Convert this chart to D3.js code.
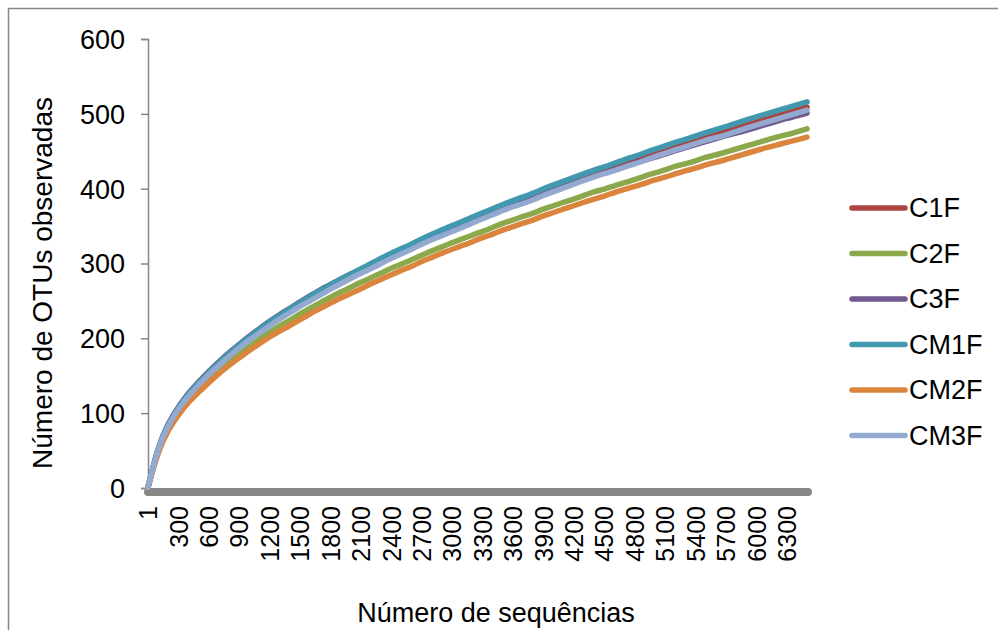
<!DOCTYPE html>
<html>
<head>
<meta charset="utf-8">
<script src="https://cdn.jsdelivr.net/npm/d3@7"></script>
<style>
  body { margin: 0; background: #fff; }
  svg text { font-family: "Liberation Sans", Arial, sans-serif; fill: #000; }
</style>
</head>
<body>
<div id="chart"></div>
<script>
// categories: number of sequences, 1 then every 100
const sequences = [1].concat(d3.range(100, 6501, 100));
const tickLabels = ['1', '300', '600', '900', '1200', '1500', '1800', '2100', '2400', '2700', '3000',
	'3300', '3600', '3900', '4200', '4500', '4800', '5100', '5400', '5700', '6000', '6300'];
const yTicks = [0, 100, 200, 300, 400, 500, 600];

const seriesNames = ['C1F', 'C2F', 'C3F', 'CM1F', 'CM2F', 'CM3F'];
const seriesColors = ['#AD4340', '#8BA94B', '#71588F', '#4198AF', '#DB843D', '#93A9CF'];

const C1F = [1, 54, 85, 106, 124, 139, 153, 166, 177, 188, 199, 209, 219, 228, 236, 245, 252, 260, 268, 275,
	282, 289, 296, 303, 310, 316, 321, 328, 334, 340, 346, 351, 357, 363, 368, 374, 379, 384, 388, 394,
	399, 404, 409, 414, 419, 423, 428, 433, 437, 442, 447, 451, 456, 459, 463, 468, 472, 476, 480, 485,
	489, 493, 497, 501, 505, 509];
const C2F = [1, 51, 81, 101, 118, 132, 145, 157, 168, 179, 189, 199, 208, 217, 224, 233, 240, 248, 255, 262,
	268, 275, 281, 287, 294, 299, 305, 311, 317, 322, 328, 333, 338, 343, 348, 354, 358, 363, 367, 373,
	377, 382, 386, 391, 396, 399, 404, 408, 412, 417, 421, 425, 430, 433, 437, 442, 445, 449, 453, 457,
	461, 465, 469, 472, 476, 480];
const C3F = [1, 56, 87, 109, 127, 142, 156, 169, 181, 192, 203, 213, 223, 232, 240, 249, 257, 265, 272, 279,
	286, 292, 299, 305, 312, 318, 324, 330, 336, 342, 347, 352, 358, 363, 368, 373, 378, 383, 388, 393,
	398, 403, 408, 412, 417, 421, 425, 430, 434, 438, 442, 446, 451, 455, 459, 463, 467, 471, 474, 478,
	482, 486, 490, 494, 497, 501];
const CM1F = [1, 55, 86, 108, 126, 141, 155, 168, 180, 191, 202, 212, 222, 231, 239, 248, 256, 264, 272, 279,
	286, 293, 300, 307, 314, 320, 326, 333, 339, 345, 351, 356, 362, 368, 373, 379, 384, 389, 394, 400,
	405, 410, 415, 420, 425, 429, 434, 439, 443, 448, 453, 457, 462, 466, 470, 475, 479, 483, 487, 492,
	496, 500, 504, 508, 512, 516];
const CM2F = [1, 49, 78, 98, 115, 128, 141, 153, 164, 174, 184, 193, 202, 210, 217, 225, 233, 240, 247, 254,
	260, 266, 273, 279, 285, 291, 296, 303, 308, 314, 319, 324, 329, 335, 339, 345, 349, 354, 358, 364,
	368, 373, 377, 382, 386, 390, 395, 399, 403, 407, 412, 415, 420, 424, 427, 432, 435, 439, 443, 447,
	451, 455, 458, 462, 465, 469];
const CM3F = [1, 54, 84, 106, 123, 138, 152, 164, 176, 187, 198, 207, 217, 226, 234, 243, 250, 258, 266, 273,
	280, 287, 293, 300, 307, 313, 319, 326, 332, 337, 343, 348, 354, 360, 365, 371, 376, 380, 385, 391,
	396, 401, 406, 411, 416, 420, 424, 429, 433, 438, 443, 447, 452, 456, 460, 465, 468, 472, 476, 481,
	485, 489, 493, 497, 501, 505];
const seriesValues = [C1F, C2F, C3F, CM1F, CM2F, CM3F];

const width = 998, height = 630;
const axisGray = '#868686';
const fontSize = '27px';

var svg = d3.select('#chart').append('svg')
	.attr('width', width)
	.attr('height', height)

// outer chart border (runs past the right and bottom edges)
svg.append('rect')
	.attr('x', 8.5)
	.attr('y', 8.5)
	.attr('width', 1010)
	.attr('height', 640)
	.attr('fill', 'none')
	.attr('stroke', axisGray)
	.attr('stroke-width', 1.5)

var x = d3.scalePoint()
	.domain(sequences)
	.range([148, 807])
var y = d3.scaleLinear()
	.domain([0, 600])
	.range([488, 39])

// y axis
var yAxis = svg.append('g')
	.attr('transform', 'translate(148,0)')
	.call(d3.axisLeft(y).tickValues(yTicks).tickSize(7).tickPadding(16))
yAxis.select('.domain').attr('stroke', axisGray).attr('stroke-width', 1.5)
yAxis.selectAll('.tick line').attr('stroke', axisGray).attr('stroke-width', 1.5)
yAxis.selectAll('.tick text')
	.style('font-size', fontSize)
	.attr('dy', '0.35em')

// x axis: thick grey baseline with rotated labels
var labelled = sequences.filter(d => tickLabels.includes(String(d)));
var xAxis = svg.append('g')
	.attr('transform', 'translate(0,492)')
	.call(d3.axisBottom(x).tickValues(labelled).tickSize(0).tickPadding(0))
xAxis.select('.domain').remove()
xAxis.append('line')
	.attr('x1', x(sequences[0]))
	.attr('x2', x(sequences[sequences.length - 1]) + 1)
	.attr('stroke', axisGray)
	.attr('stroke-width', 8)
	.attr('stroke-linecap', 'round')
xAxis.selectAll('.tick text')
	.style('font-size', '25px')
	.attr('text-anchor', 'end')
	.attr('transform', 'rotate(-90)')
	.attr('x', -14)
	.attr('y', 0)
	.attr('dy', '0.35em')

// series lines
var line = d3.line()
	.x((d, i) => x(sequences[i]))
	.y(d => y(d))
	.curve(d3.curveBasis)

seriesValues.forEach(function(vals, i) {
	svg.append('path')
		.datum(vals)
		.attr('d', line)
		.attr('fill', 'none')
		.attr('stroke', seriesColors[i])
		.attr('stroke-width', 5.5)
		.attr('stroke-linejoin', 'round')
		.attr('stroke-linecap', 'round')
})

// axis titles
svg.append('text')
	.attr('transform', 'translate(52,283) rotate(-90)')
	.attr('text-anchor', 'middle')
	.style('font-size', '28px')
	.text('Número de OTUs observadas')
svg.append('text')
	.attr('x', 496)
	.attr('y', 622)
	.attr('text-anchor', 'middle')
	.style('font-size', fontSize)
	.text('Número de sequências')

// legend
var legend = svg.append('g')
seriesNames.forEach(function(name, i) {
	var ly = 208 + i * 45.5;
	legend.append('line')
		.attr('x1', 852)
		.attr('x2', 905)
		.attr('y1', ly)
		.attr('y2', ly)
		.attr('stroke', seriesColors[i])
		.attr('stroke-width', 5.5)
		.attr('stroke-linecap', 'round')
	legend.append('text')
		.attr('x', 909)
		.attr('y', ly)
		.attr('dy', '0.35em')
		.style('font-size', fontSize)
		.text(name)
})
</script>
</body>
</html>
